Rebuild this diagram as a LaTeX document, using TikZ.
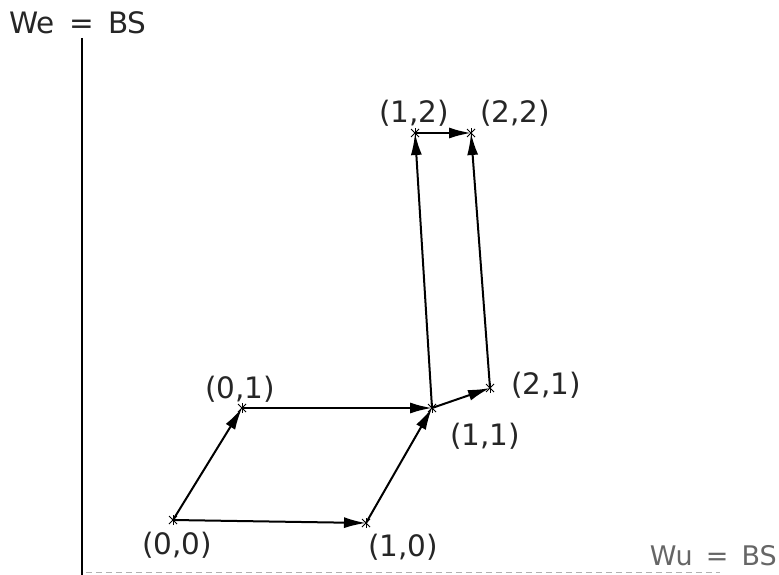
\documentclass[tikz,border=0pt]{standalone}
\usepackage{fontspec}
\setmainfont{DejaVu Sans}
\usetikzlibrary{arrows.meta}
\begin{document}
\begin{tikzpicture}[x=1pt,y=-1pt,
  edge/.style={line width=2pt,-{Latex[length=22pt,width=11pt]}},
  lbl/.style={font=\fontsize{29.5}{32}\selectfont,text=black!85,inner sep=0pt},
  pt/.style={inner sep=0pt,minimum size=0pt},
  ptmark/.style={line width=0.8pt}]
\useasboundingbox (0,0) rectangle (779,575);
% axes
\draw[line width=2.4pt] (82,38) -- (82,575);
\draw[black!30,line width=1pt,dash pattern=on 6pt off 4pt] (86,572) -- (720,572);
\node[lbl,anchor=west] (we) at (9,23) {We \,=\, BS};
\node[lbl,anchor=east,text=black!60,font=\fontsize{27}{30}\selectfont] (wu) at (777,556) {Wu \,=\, BS};
% points
\node[pt] (p00) at (173,520) {};
\node[pt] (p10) at (366,523) {};
\node[pt] (p01) at (242,408) {};
\node[pt] (p11) at (432,408) {};
\node[pt] (p21) at (490,388) {};
\node[pt] (p12) at (415,133) {};
\node[pt] (p22) at (471,133) {};
\foreach \p in {p00,p10,p01,p11,p21,p12,p22}{
  \draw[ptmark] ([xshift=-4pt,yshift=-4pt]\p.center) -- ([xshift=4pt,yshift=4pt]\p.center);
  \draw[ptmark] ([xshift=-4pt,yshift=4pt]\p.center) -- ([xshift=4pt,yshift=-4pt]\p.center);
  \draw[ptmark] ([yshift=-5pt]\p.center) -- ([yshift=5pt]\p.center);
}
% edges
\draw[edge] (p00.center) -- (p10.center);
\draw[edge] (p00.center) -- (p01.center);
\draw[edge] (p01.center) -- (p11.center);
\draw[edge] (p10.center) -- (p11.center);
\draw[edge] (p11.center) -- (p21.center);
\draw[edge] (p11.center) -- (p12.center);
\draw[edge] (p21.center) -- (p22.center);
\draw[edge] (p12.center) -- (p22.center);
% labels
\node[lbl] (l00) at (177,545) {(0,0)};
\node[lbl] (l10) at (403,547) {(1,0)};
\node[lbl] (l01) at (240,389) {(0,1)};
\node[lbl] (l11) at (485,436) {(1,1)};
\node[lbl] (l21) at (546,385) {(2,1)};
\node[lbl] (l12) at (414,113) {(1,2)};
\node[lbl] (l22) at (515,113) {(2,2)};
\end{tikzpicture}
\end{document}
